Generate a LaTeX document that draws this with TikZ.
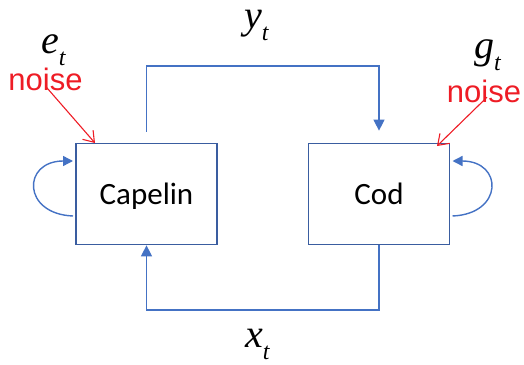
\documentclass[tikz,border=0pt]{standalone}
\usepackage{fontspec}
\setmainfont{Carlito}
\newfontfamily\arialf{Liberation Sans}
\newfontfamily\timesf{Liberation Serif}
\usetikzlibrary{arrows.meta}
\definecolor{boxblue}{HTML}{3A5DA0}
\definecolor{lineblue}{HTML}{4472C4}
\definecolor{noisered}{HTML}{EE1C25}
\newcommand\vlab[2]{{\timesf\fontsize{40}{40}\selectfont\itshape #1}\raisebox{-12pt}{\timesf\fontsize{24}{24}\selectfont\itshape #2}}
\tikzset{
  fishbox/.style={draw=boxblue, line width=1.7pt, minimum width=141pt, minimum height=101pt, inner sep=0pt, text height=21pt, text depth=0pt, font=\fontsize{31}{31}\selectfont},
  flow/.style={draw=lineblue, line width=1.2pt, -{Triangle[length=11pt,width=11pt]}},
  loopline/.style={draw=lineblue, line width=1.4pt, -{Triangle[length=10pt,width=10pt]}},
  noiselbl/.style={text=noisered, font=\arialf\fontsize{31}{31}\selectfont, inner sep=0pt, anchor=base, text height=18pt, text depth=0pt},
  noisearr/.style={draw=noisered, line width=1.1pt, -{Straight Barb[length=10pt,width=14pt]}},
  varlbl/.style={inner sep=0pt, anchor=base west, text height=20pt, text depth=0pt},
}
\begin{document}
\begin{tikzpicture}[x=1pt,y=-1pt]
\useasboundingbox (0,0) rectangle (524,364);
\node[fishbox] (cap) at (146.5,194) {Capelin};
\node[fishbox] (cod) at (379,194) {Cod};
% top connector Capelin -> Cod
\coordinate (tl) at (146.5,66);
\coordinate (tr) at (379,66);
\draw[flow, shorten <=11pt, shorten >=12pt] (cap.north) -- (tl) -- (tr) -- (cod.north);
% bottom connector Cod -> Capelin
\coordinate (bl) at (146.5,310);
\coordinate (br) at (379,310);
\draw[flow] (cod.south) -- (br) -- (bl) -- (cap.south);
% self loops
\coordinate (capa) at (73,216);
\coordinate (capb) at (73,161);
\draw[loopline] (capa) .. controls (22,214) and (22,161) .. (capb);
\coordinate (coda) at (452.5,216);
\coordinate (codb) at (452.5,161);
\draw[loopline] (coda) .. controls (503.5,214) and (503.5,161) .. (codb);
% labels
\node[varlbl] (yt) at (244,28) {\vlab{y}{t}};
\node[varlbl] (xt) at (245,347) {\vlab{x}{t}};
\node[varlbl] (et) at (41,53) {\vlab{e}{t}};
\node[varlbl] (gt) at (474,58) {\vlab{g}{t}};
% noise
\node[noiselbl] (nl) at (45.5,90) {noise};
\node[noiselbl] (nr) at (484,102) {noise};
\coordinate (nlend) at (95,143);
\coordinate (nrend) at (437,146);
\draw[noisearr] ([yshift=4pt]nl.south) -- (nlend);
\draw[noisearr] ([xshift=3pt,yshift=5pt]nr.south) -- (nrend);
\end{tikzpicture}
\end{document}
